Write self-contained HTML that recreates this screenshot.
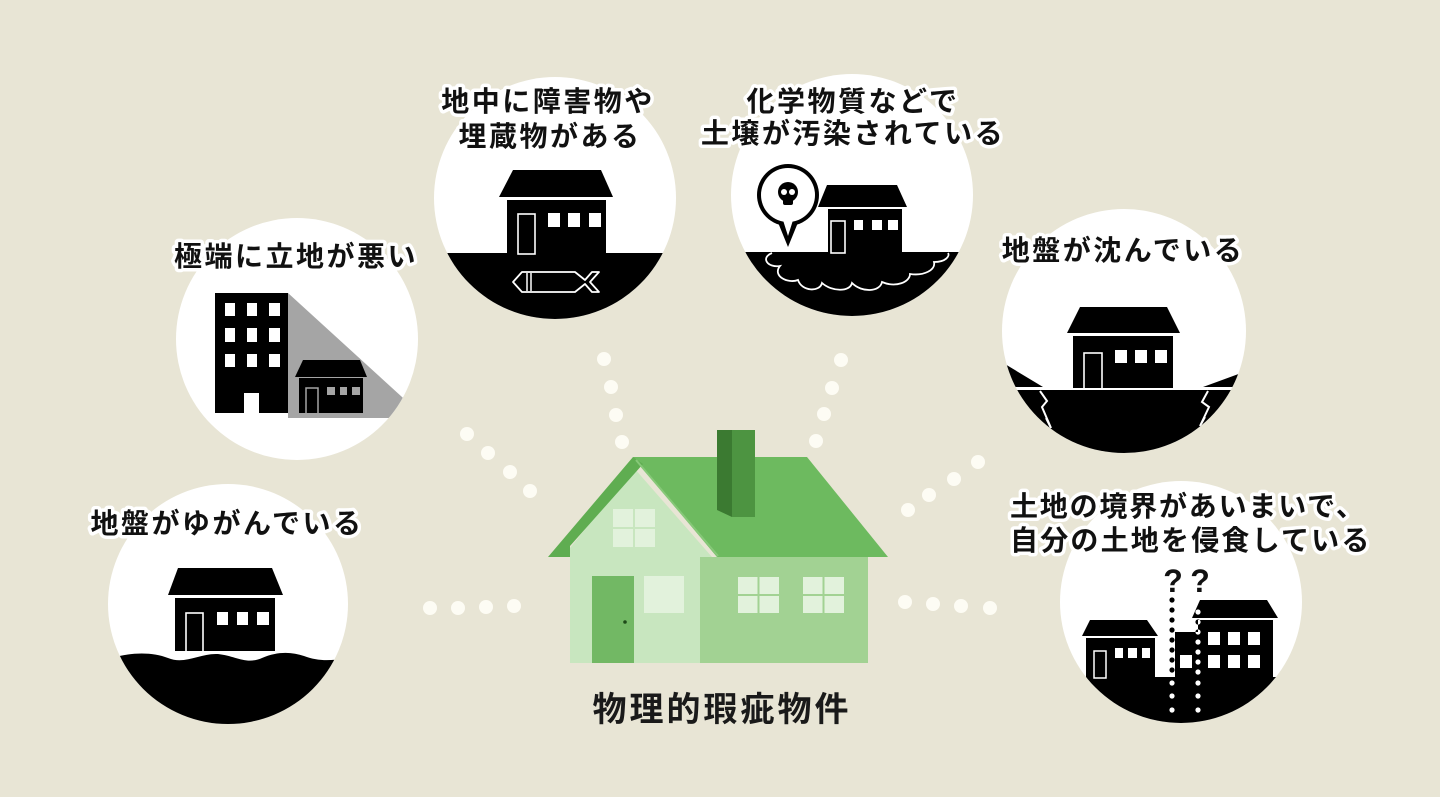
<!DOCTYPE html>
<html><head><meta charset="utf-8"><style>
html,body{margin:0;padding:0;background:#e8e5d5;}
svg{display:block;}
.t{font-family:"Liberation Sans","Noto Sans CJK JP",sans-serif;font-weight:700;font-size:28px;letter-spacing:2.5px;fill:#111;stroke:#fff;stroke-width:7px;stroke-linejoin:round;paint-order:stroke fill;text-anchor:middle;}
</style></head><body>
<svg width="1440" height="797" viewBox="0 0 1440 797" xmlns="http://www.w3.org/2000/svg">
<defs>
<clipPath id="c1"><circle cx="555" cy="198" r="121"/></clipPath>
<clipPath id="c2"><circle cx="852" cy="195" r="121"/></clipPath>
<clipPath id="c3"><circle cx="297" cy="339" r="121"/></clipPath>
<clipPath id="c4"><circle cx="1124" cy="331" r="122"/></clipPath>
<clipPath id="c5"><circle cx="228" cy="604" r="120"/></clipPath>
<clipPath id="c6"><circle cx="1181" cy="602" r="121"/></clipPath>
</defs>
<rect width="1440" height="797" fill="#e8e5d5"/>

<!-- connector dots -->
<g fill="#fdfcf4">
<circle cx="604" cy="359" r="7"/><circle cx="611" cy="387" r="7"/><circle cx="616" cy="415" r="7"/><circle cx="622" cy="442" r="7"/>
<circle cx="467" cy="434" r="7"/><circle cx="488" cy="453" r="7"/><circle cx="510" cy="472" r="7"/><circle cx="530" cy="491" r="7"/>
<circle cx="841" cy="360" r="7"/><circle cx="832" cy="388" r="7"/><circle cx="824" cy="414" r="7"/><circle cx="816" cy="441" r="7"/>
<circle cx="978" cy="462" r="7"/><circle cx="954" cy="479" r="7"/><circle cx="929" cy="495" r="7"/><circle cx="908" cy="510" r="7"/>
<circle cx="430" cy="608" r="7"/><circle cx="458" cy="608" r="7"/><circle cx="486" cy="607" r="7"/><circle cx="514" cy="606" r="7"/>
<circle cx="905" cy="602" r="7"/><circle cx="933" cy="604" r="7"/><circle cx="961" cy="606" r="7"/><circle cx="990" cy="608" r="7"/>
</g>

<!-- Circle 1 -->
<circle cx="555" cy="198" r="121" fill="#fff"/>
<g clip-path="url(#c1)">
<rect x="420" y="253" width="280" height="80" fill="#000"/>
</g>
<polygon points="513,170 601,170 613,197 499,197" fill="#000"/>
<rect x="507" y="200" width="99" height="53" fill="#000"/>
<rect x="518" y="214" width="17" height="40" fill="none" stroke="#fff" stroke-width="1.6"/>
<g fill="#fff"><rect x="548" y="213" width="12" height="14"/><rect x="568" y="213" width="12" height="14"/><rect x="589" y="213" width="12" height="14"/></g>
<path d="M522,272 L575,272 L585,280 L592,272 L599,272 L590,282 L599,292 L592,292 L585,284 L575,292 L522,292 L513,282 Z" fill="none" stroke="#fff" stroke-width="1.8" stroke-linejoin="round"/>
<line x1="527" y1="273" x2="527" y2="291" stroke="#fff" stroke-width="1.5"/>
<line x1="531" y1="273" x2="531" y2="291" stroke="#fff" stroke-width="1.5"/>
<text class="t" x="548" y="111">地中に障害物や</text>
<text class="t" x="550" y="146">埋蔵物がある</text>

<!-- Circle 2 -->
<circle cx="852" cy="195" r="121" fill="#fff"/>
<g clip-path="url(#c2)">
<rect x="720" y="252" width="270" height="80" fill="#000"/>
<path d="M772,253 C760,258 768,268 780,266 C772,276 788,284 798,280 C802,292 820,292 822,283 C832,292 850,292 852,283 C862,293 880,292 882,282 C896,288 910,282 910,274 C924,276 936,270 934,262 C946,262 950,256 948,253" fill="none" stroke="#fff" stroke-width="1.8"/>
</g>
<polygon points="827,185 897,185 907,207 818,207" fill="#000"/>
<rect x="828" y="209" width="74" height="43" fill="#000"/>
<rect x="831" y="221" width="14" height="32" fill="none" stroke="#fff" stroke-width="1.6"/>
<g fill="#fff"><rect x="854" y="220" width="9" height="10"/><rect x="872" y="220" width="10" height="10"/><rect x="888" y="220" width="10" height="10"/></g>
<circle cx="788" cy="195" r="31" fill="#000"/>
<polygon points="777,220 799,220 788,247" fill="#000"/>
<circle cx="788" cy="195" r="27" fill="#fff"/>
<polygon points="782,217 794,217 788,236" fill="#fff"/>
<circle cx="788" cy="192" r="10" fill="#000"/>
<rect x="783" y="196" width="10" height="9" rx="2" fill="#000"/>
<circle cx="784" cy="192" r="3" fill="#fff"/><circle cx="792" cy="192" r="3" fill="#fff"/>
<text class="t" x="853" y="111">化学物質などで</text>
<text class="t" x="853" y="143">土壌が汚染されている</text>

<!-- Circle 3 -->
<circle cx="297" cy="339" r="121" fill="#fff"/>
<g clip-path="url(#c3)">
<polygon points="288,293 425,418 288,418" fill="#a5a5a5"/>
</g>
<rect x="215" y="293" width="73" height="120" fill="#000"/>
<g fill="#fff">
<rect x="225" y="303" width="10" height="13"/><rect x="247" y="303" width="10" height="13"/><rect x="269" y="303" width="11" height="13"/>
<rect x="225" y="328" width="10" height="14"/><rect x="247" y="328" width="10" height="14"/><rect x="269" y="328" width="11" height="14"/>
<rect x="225" y="354" width="10" height="13"/><rect x="247" y="354" width="10" height="13"/><rect x="269" y="354" width="11" height="13"/>
<rect x="244" y="393" width="15" height="20"/>
</g>
<polygon points="303,360 360,360 367,377 295,377" fill="#000"/>
<rect x="299" y="378" width="64" height="35" fill="#000"/>
<rect x="306" y="388" width="12" height="26" fill="none" stroke="#a5a5a5" stroke-width="1.5"/>
<g fill="#a5a5a5"><rect x="327" y="387" width="8" height="8"/><rect x="340" y="387" width="7" height="8"/><rect x="352" y="387" width="8" height="8"/></g>
<text class="t" x="296" y="266">極端に立地が悪い</text>

<!-- Circle 4 -->
<circle cx="1124" cy="331" r="122" fill="#fff"/>
<g clip-path="url(#c4)">
<rect x="990" y="390" width="270" height="80" fill="#000"/>
<polygon points="995,358 1043,387 995,387" fill="#000"/>
<polygon points="1255,368 1203,387 1255,387" fill="#000"/>
<polyline points="1040,391 1047,401 1042,407 1051,428 1046,418" fill="none" stroke="#fff" stroke-width="2"/>
<polyline points="1208,391 1202,402 1209,407 1200,426 1205,417" fill="none" stroke="#fff" stroke-width="2"/>
</g>
<polygon points="1080,307 1167,307 1180,333 1067,333" fill="#000"/>
<rect x="1073" y="336" width="100" height="52" fill="#000"/>
<rect x="1084" y="353" width="18" height="36" fill="none" stroke="#fff" stroke-width="1.6"/>
<g fill="#fff"><rect x="1115" y="350" width="12" height="13"/><rect x="1135" y="350" width="12" height="13"/><rect x="1155" y="350" width="12" height="13"/></g>
<text class="t" x="1123" y="260">地盤が沈んでいる</text>

<!-- Circle 5 -->
<circle cx="228" cy="604" r="120" fill="#fff"/>
<g clip-path="url(#c5)">
<path d="M100,662 C125,652 150,651 168,658 C185,665 200,653 218,654 C236,656 246,665 262,658 C278,651 292,652 304,656 C322,663 340,660 360,655 L360,740 L100,740 Z" fill="#000"/>
</g>
<polygon points="178,568 272,568 283,595 168,595" fill="#000"/>
<rect x="175" y="598" width="100" height="53" fill="#000"/>
<rect x="186" y="613" width="17" height="39" fill="none" stroke="#fff" stroke-width="1.6"/>
<g fill="#fff"><rect x="217" y="612" width="11" height="13"/><rect x="237" y="612" width="11" height="13"/><rect x="257" y="612" width="12" height="13"/></g>
<text class="t" x="227" y="533">地盤がゆがんでいる</text>

<!-- Circle 6 -->
<circle cx="1181" cy="602" r="121" fill="#fff"/>
<g clip-path="url(#c6)">
<rect x="1050" y="677" width="270" height="60" fill="#000"/>
</g>
<polygon points="1090,620 1147,620 1158,636 1082,636" fill="#000"/>
<rect x="1086" y="638" width="69" height="39" fill="#000"/>
<rect x="1094" y="651" width="12" height="27" fill="none" stroke="#fff" stroke-width="1.5"/>
<g fill="#fff"><rect x="1115" y="648" width="8" height="10"/><rect x="1128" y="648" width="9" height="10"/><rect x="1142" y="648" width="8" height="10"/></g>
<polygon points="1200,600 1267,600 1278,618 1192,618" fill="#000"/>
<rect x="1198" y="620" width="75" height="57" fill="#000"/>
<rect x="1175" y="632" width="24" height="45" fill="#000"/>
<g fill="#fff">
<rect x="1208" y="632" width="12" height="13"/><rect x="1228" y="632" width="12" height="13"/><rect x="1248" y="632" width="12" height="13"/>
<rect x="1208" y="655" width="12" height="13"/><rect x="1228" y="655" width="12" height="13"/><rect x="1248" y="655" width="12" height="13"/>
<rect x="1180" y="655" width="12" height="13"/>
</g>
<g fill="#fff" style="mix-blend-mode:difference">
<circle cx="1172" cy="600" r="2.6"/><circle cx="1172" cy="610" r="2.6"/><circle cx="1172" cy="620" r="2.6"/><circle cx="1172" cy="630" r="2.6"/><circle cx="1172" cy="640" r="2.6"/><circle cx="1172" cy="650" r="2.6"/><circle cx="1172" cy="660" r="2.6"/><circle cx="1172" cy="670" r="2.6"/><circle cx="1172" cy="683" r="2.6"/><circle cx="1172" cy="696" r="2.6"/><circle cx="1172" cy="710" r="2.6"/>
<circle cx="1198" cy="612" r="2.6"/><circle cx="1198" cy="622" r="2.6"/><circle cx="1198" cy="632" r="2.6"/><circle cx="1198" cy="642" r="2.6"/><circle cx="1198" cy="652" r="2.6"/><circle cx="1198" cy="662" r="2.6"/><circle cx="1198" cy="672" r="2.6"/><circle cx="1198" cy="683" r="2.6"/><circle cx="1198" cy="696" r="2.6"/><circle cx="1198" cy="710" r="2.6"/>
</g>
<text x="1173" y="592" style="font-family:'Liberation Sans',sans-serif;font-weight:700;font-size:32px;fill:#111;text-anchor:middle">?</text>
<text x="1200" y="592" style="font-family:'Liberation Sans',sans-serif;font-weight:700;font-size:32px;fill:#111;text-anchor:middle">?</text>
<text class="t" x="1010" y="516" style="text-anchor:start;letter-spacing:1.8px">土地の境界があいまいで、</text>
<text class="t" x="1010" y="550" style="text-anchor:start;letter-spacing:2.2px">自分の土地を侵食している</text>

<!-- Center green house -->
<polygon points="570,663 570,548 634,468 712,557 712,663" fill="#c8e6bf"/>
<rect x="700" y="557" width="168" height="106" fill="#a2d293"/>
<polygon points="633,457 807,457 888,557 717,557" fill="#6dba5f"/>
<polygon points="548,557 633,457 643,464 570,546 570,557" fill="#5fad51"/>
<line x1="636" y1="460" x2="718" y2="556" stroke="#86c878" stroke-width="2"/>
<rect x="732" y="430" width="23" height="87" fill="#4d9441"/>
<polygon points="717,430 732,430 732,517 717,510" fill="#3b7a31"/>
<rect x="613" y="509" width="42" height="38" fill="#e2f2dc"/>
<line x1="634" y1="509" x2="634" y2="547" stroke="#c8e6bf" stroke-width="2"/>
<line x1="613" y1="528" x2="655" y2="528" stroke="#c8e6bf" stroke-width="2"/>
<rect x="644" y="576" width="40" height="37" fill="#e2f2dc"/>
<rect x="738" y="577" width="41" height="36" fill="#e2f2dc"/>
<line x1="758.5" y1="577" x2="758.5" y2="613" stroke="#a2d293" stroke-width="2"/>
<line x1="738" y1="595" x2="779" y2="595" stroke="#a2d293" stroke-width="2"/>
<rect x="803" y="577" width="41" height="36" fill="#e2f2dc"/>
<line x1="823.5" y1="577" x2="823.5" y2="613" stroke="#a2d293" stroke-width="2"/>
<line x1="803" y1="595" x2="844" y2="595" stroke="#a2d293" stroke-width="2"/>
<rect x="592" y="576" width="42" height="87" fill="#72b864"/>
<circle cx="625" cy="622" r="1.8" fill="#1d4a18"/>
<text x="722" y="721" style="font-family:'Liberation Sans','Noto Sans CJK JP',sans-serif;font-weight:700;font-size:34px;fill:#1a1a1a;text-anchor:middle;letter-spacing:3px">物理的瑕疵物件</text>
</svg>
</body></html>
